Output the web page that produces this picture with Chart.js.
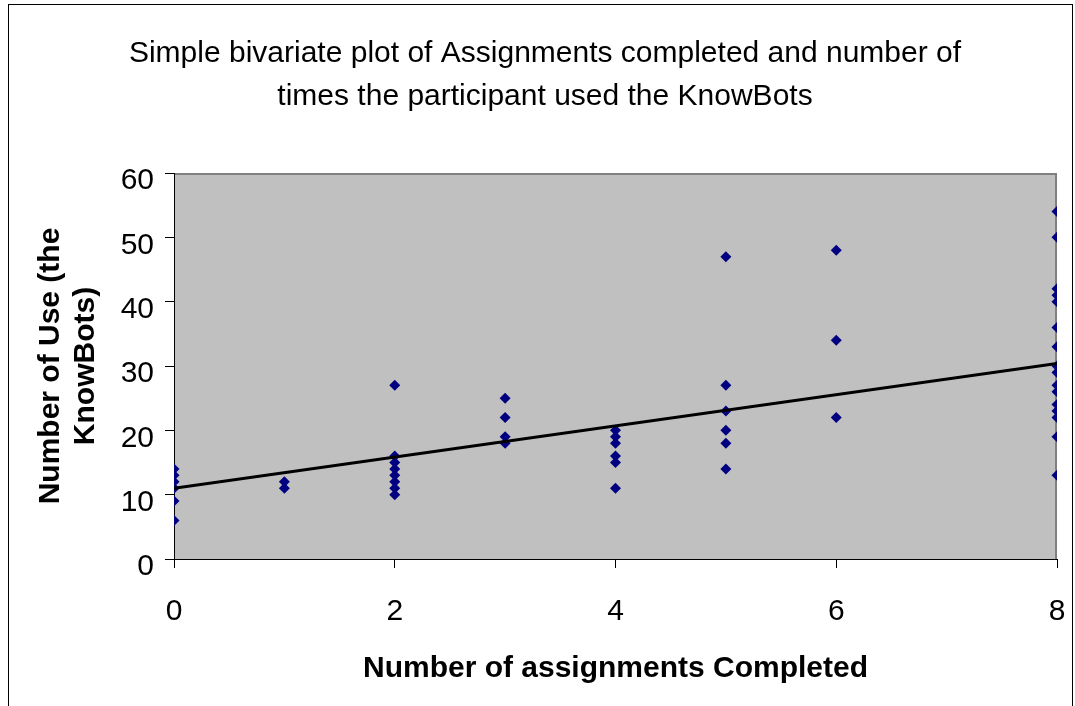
<!DOCTYPE html>
<html>
<head>
<meta charset="utf-8">
<title>Assignments completed vs KnowBots use</title>
<script src="https://cdn.jsdelivr.net/npm/chart.js@4.4.1/dist/chart.umd.min.js"></script>
<style>
  html, body { margin: 0; padding: 0; background: #ffffff; }
  #wrap { width: 1075px; height: 706px; }
</style>
</head>
<body>
<div id="wrap"><canvas id="chart" width="1075" height="706"></canvas></div>
<script>
// Assignments completed (x) for each participant, grouped by count
const assignmentsCompleted = [
  0, 0, 0, 0, 0, 0,
  1, 1,
  2, 2, 2, 2, 2, 2, 2, 2,
  3, 3, 3, 3,
  4, 4, 4, 4, 4, 4,
  5, 5, 5, 5, 5, 5,
  6, 6, 6,
  8, 8, 8, 8, 8, 8, 8, 8, 8, 8, 8, 8, 8, 8, 8, 8
];
// Number of times each participant used the KnowBots
const knowBotUses = [
  14, 13, 12, 11, 9, 6,
  12, 11,
  27, 16, 15, 14, 13, 12, 11, 10,
  25, 22, 19, 18,
  20, 19, 18, 16, 15, 11,
  47, 27, 23, 20, 18, 14,
  48, 34, 22,
  54, 50, 42, 41, 40, 36, 33, 30, 29, 27, 26, 24, 23, 22, 19, 13
];
// Linear trend line end points
const trendX = [0, 8];
const trendY = [11.0, 30.4];

const chartTitle = [
  'Simple bivariate plot of Assignments completed and number of',
  'times the participant used the KnowBots'
];
const xAxisTitle = 'Number of assignments Completed';
const yAxisTitle = ['Number of Use (the', 'KnowBots)'];

const FONT = "'Liberation Sans', Arial, sans-serif";

// White page, outer frame and grey plot area with its top/right edge
const backdrop = {
  id: 'backdrop',
  afterLayout(chart) {
    // centre the title block over the page rather than the plot
    if (chart.titleBlock) {
      chart.titleBlock.left = 33;
      chart.titleBlock.right = 1057;
    }
  },
  beforeDraw(chart) {
    const ctx = chart.ctx;
    const { left, top, right, bottom } = chart.chartArea;
    ctx.save();
    ctx.fillStyle = '#ffffff';
    ctx.fillRect(0, 0, chart.width, chart.height);
    ctx.strokeStyle = '#000000';
    ctx.lineWidth = 1;
    ctx.strokeRect(8.5, 4.5, 1064, 760);
    ctx.fillStyle = '#c0c0c0';
    ctx.fillRect(left, top, right - left, bottom - top);
    ctx.strokeStyle = '#808080';
    ctx.lineWidth = 2;
    ctx.beginPath();
    ctx.moveTo(left, top + 1);
    ctx.lineTo(right - 1, top + 1);
    ctx.lineTo(right - 1, bottom);
    ctx.stroke();
    ctx.restore();
  }
};

const scatterPoints = assignmentsCompleted.map((x, i) => ({ x: x, y: knowBotUses[i] }));
const trendPoints = trendX.map((x, i) => ({ x: x, y: trendY[i] }));

new Chart(document.getElementById('chart'), {
  type: 'scatter',
  data: {
    datasets: [
      {
        type: 'line',
        label: 'Trend',
        data: trendPoints,
        borderColor: '#000000',
        borderWidth: 3,
        pointRadius: 0,
        fill: false,
        order: 0
      },
      {
        label: 'Number of Use',
        data: scatterPoints,
        pointStyle: 'rectRot',
        pointRadius: 5.5,
        pointHoverRadius: 5.5,
        backgroundColor: '#000080',
        borderColor: '#000080',
        borderWidth: 0,
        order: 1
      }
    ]
  },
  options: {
    responsive: false,
    animation: false,
    devicePixelRatio: 1,
    layout: { padding: { left: 0, right: 18, top: 0, bottom: 0 } },
    plugins: {
      legend: { display: false },
      tooltip: { enabled: false },
      title: {
        display: true,
        text: chartTitle,
        color: '#000000',
        font: { family: FONT, size: 30, weight: 'normal', lineHeight: 1.44 },
        padding: { top: 32, bottom: 54.6 }
      }
    },
    scales: {
      x: {
        type: 'linear',
        min: 0,
        max: 8,
        afterFit(scale) {
          scale.height = 147;
          scale.paddingLeft = 0;
          scale.paddingRight = 0;
        },
        ticks: {
          stepSize: 2,
          color: '#000000',
          padding: 26,
          font: { family: FONT, size: 30 }
        },
        grid: {
          drawOnChartArea: false,
          drawTicks: true,
          tickLength: 9,
          color: '#000000',
          tickColor: '#000000'
        },
        border: { display: true, color: '#000000', width: 1 },
        title: {
          display: true,
          text: xAxisTitle,
          color: '#000000',
          font: { family: FONT, size: 30, weight: 'bold', lineHeight: 1.2 },
          padding: { top: 0, bottom: 19 }
        }
      },
      y: {
        type: 'linear',
        min: 0,
        max: 60,
        afterFit(scale) { scale.width = 174; },
        ticks: {
          stepSize: 10,
          color: '#000000',
          padding: 11,
          labelOffset: 8,
          font: { family: FONT, size: 30 }
        },
        grid: {
          drawOnChartArea: false,
          drawTicks: true,
          tickLength: 9,
          color: '#000000',
          tickColor: '#000000'
        },
        border: { display: true, color: '#000000', width: 1 },
        title: {
          display: true,
          text: yAxisTitle,
          color: '#000000',
          font: { family: FONT, size: 30, weight: 'bold', lineHeight: 1.17 },
          padding: { top: 33, bottom: 0 }
        }
      }
    }
  },
  plugins: [backdrop]
});
</script>
</body>
</html>
